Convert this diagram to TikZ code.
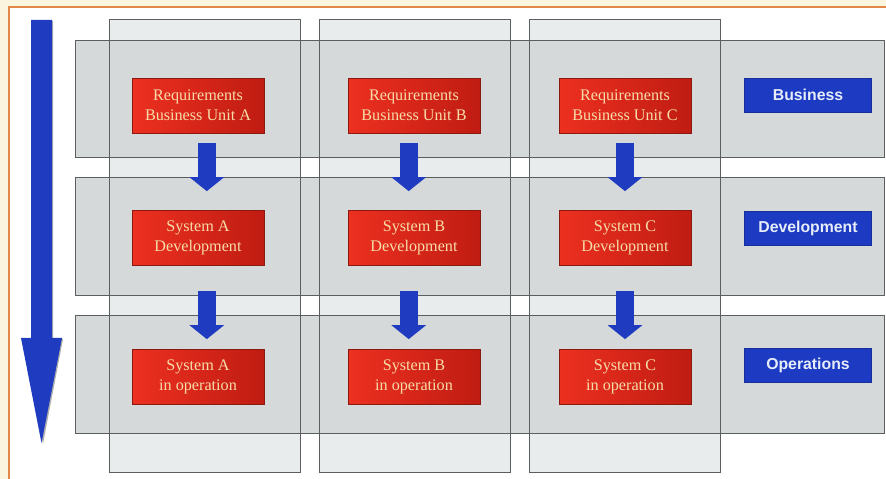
\documentclass[tikz,border=0pt]{standalone}
\usepackage{fontspec}
\setmainfont{Liberation Serif}
\newfontfamily\labelfont{Liberation Sans}
\usetikzlibrary{arrows.meta}

\definecolor{framebg}{HTML}{FBF5DF}
\definecolor{frameline}{HTML}{E0884A}
\definecolor{colband}{HTML}{E8ECED}
\definecolor{rowband}{HTML}{D5D9DA}
\definecolor{bandline}{HTML}{5A5E5E}
\definecolor{reqred}{HTML}{EC3020}
\definecolor{reqdark}{HTML}{C01C12}
\definecolor{reqline}{HTML}{8A1A10}
\definecolor{reqtext}{HTML}{F6DCA8}
\definecolor{flowblue}{HTML}{1F3CC0}
\definecolor{labelblue}{HTML}{1C3BC2}
\definecolor{labeltext}{HTML}{E6ECF8}

\begin{document}
\begin{tikzpicture}[x=0.02cm,y=-0.02cm,
    redbox/.style={draw=reqline,line width=0.4pt,left color=reqred,right color=reqdark,
        text=reqtext,align=center,minimum width=2.64cm,minimum height=1.1cm,inner sep=0pt,
        font=\fontsize{9.2}{11.3}\selectfont},
    bluebox/.style={draw=labelblue!80!black,line width=0.4pt,fill=labelblue,text=labeltext,
        minimum width=2.54cm,minimum height=0.68cm,inner sep=0pt,
        font=\labelfont\bfseries\fontsize{9}{11}\selectfont},
    flow/.style={flowblue,line width=0.36cm,-{Triangle[width=0.68cm,length=0.28cm]}}]
    \useasboundingbox (0,0) rectangle (886,479);
    % page frame
    \fill[framebg] (0,0) rectangle (886,479);
    \fill[white] (9,7) rectangle (886,479);
    \draw[frameline,line width=0.6pt] (886,7) -- (9,7) -- (9,479);
    % column and row bands
    \fill[colband] (109,19) rectangle (300,472);
    \fill[colband] (319,19) rectangle (510,472);
    \fill[colband] (529,19) rectangle (720,472);
    \fill[rowband] (75,40) rectangle (884,157);
    \fill[rowband] (75,177) rectangle (884,295);
    \fill[rowband] (75,315) rectangle (884,433);
    \draw[bandline,line width=0.5pt] (109,19) rectangle (300,472);
    \draw[bandline,line width=0.5pt] (319,19) rectangle (510,472);
    \draw[bandline,line width=0.5pt] (529,19) rectangle (720,472);
    \draw[bandline,line width=0.5pt] (75,40) rectangle (884,157);
    \draw[bandline,line width=0.5pt] (75,177) rectangle (884,295);
    \draw[bandline,line width=0.5pt] (75,315) rectangle (884,433);
    % big flow arrow on the left
    \fill[black!70,opacity=0.45] (33,21) -- (53,21) -- (53,339) -- (63,339)
        -- (43,444) -- (23,339) -- (33,339) -- cycle;
    \fill[flowblue] (31,20) -- (52,20) -- (52,338) -- (62,338)
        -- (41.5,443) -- (21,338) -- (31,338) -- cycle;
    % requirements, development, operation boxes
    \node[redbox] (reqa) at (198,105.5) {Requirements\\Business Unit A};
    \node[redbox] (reqb) at (414,105.5) {Requirements\\Business Unit B};
    \node[redbox] (reqc) at (625,105.5) {Requirements\\Business Unit C};
    \node[redbox] (deva) at (198,238) {System A\\Development};
    \node[redbox] (devb) at (414,238) {System B\\Development};
    \node[redbox] (devc) at (625,238) {System C\\Development};
    \node[redbox] (opa) at (198,377) {System A\\in operation};
    \node[redbox] (opb) at (414,377) {System B\\in operation};
    \node[redbox] (opc) at (625,377) {System C\\in operation};
    % labels on the right
    \node[bluebox] (business) at (808,95) {Business};
    \node[bluebox] (development) at (808,228.5) {Development};
    \node[bluebox] (operations) at (808,365.5) {Operations};
    % arrows between the boxes
    \draw[flow,shorten <=0.2cm,shorten >=0.38cm] ([xshift=5] reqa.south) -- ([xshift=5] deva.north);
    \draw[flow,shorten <=0.2cm,shorten >=0.38cm] ([xshift=-3] reqb.south) -- ([xshift=-3] devb.north);
    \draw[flow,shorten <=0.2cm,shorten >=0.38cm] (reqc) -- (devc);
    \draw[flow,shorten <=0.5cm,shorten >=0.2cm] ([xshift=5] deva.south) -- ([xshift=5] opa.north);
    \draw[flow,shorten <=0.5cm,shorten >=0.2cm] ([xshift=-3] devb.south) -- ([xshift=-3] opb.north);
    \draw[flow,shorten <=0.5cm,shorten >=0.2cm] (devc) -- (opc);
\end{tikzpicture}
\end{document}
